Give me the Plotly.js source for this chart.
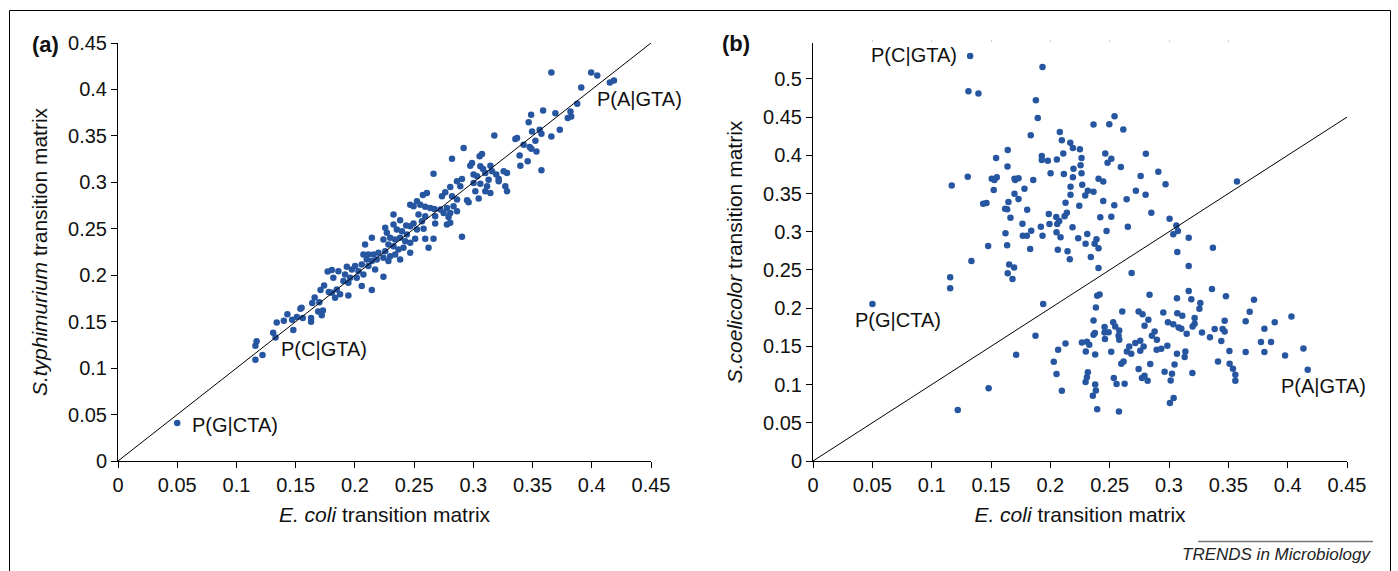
<!DOCTYPE html>
<html>
<head>
<meta charset="utf-8">
<script src="https://cdn.plot.ly/plotly-3.0.1.min.js"></script>
<style>html,body{margin:0;padding:0;background:#fff;}#chart{width:1398px;height:571px;}</style>
</head>
<body>
<div id="chart"></div>
<script>
// ---------- DATA ----------
// Panel (a): [E. coli, S. typhimurium] transition probabilities
const panelAPoints = [
[0.050,0.041],[0.117,0.129],[0.116,0.124],[0.116,0.109],[0.122,0.114],[0.131,0.138],[0.133,0.133],[0.134,0.149],
[0.140,0.151],[0.143,0.158],[0.148,0.141],[0.147,0.152],[0.151,0.155],[0.154,0.164],[0.155,0.165],[0.156,0.154],
[0.163,0.150],[0.163,0.154],[0.164,0.170],[0.166,0.176],[0.169,0.161],[0.170,0.171],[0.171,0.184],[0.172,0.157],
[0.173,0.162],[0.174,0.189],[0.177,0.204],[0.178,0.182],
[0.2326,0.2653],[0.2382,0.2592],[0.2433,0.2535],[0.2326,0.2546],[0.2256,0.2510],[0.2354,0.2492],[0.2397,0.2474],
[0.2439,0.2438],[0.2270,0.2456],[0.2298,0.2403],[0.2340,0.2385],[0.2382,0.2403],[0.2425,0.2367],[0.2467,0.2349],
[0.2086,0.2331],[0.2143,0.2403],[0.2241,0.2385],[0.2283,0.2331],[0.2326,0.2313],[0.2368,0.2277],[0.2410,0.2295],
[0.2467,0.2241],[0.2622,0.2295],[0.2072,0.2223],[0.2114,0.2223],[0.2157,0.2223],[0.2199,0.2241],[0.2256,0.2259],
[0.2298,0.2205],[0.2340,0.2223],[0.2382,0.2170],[0.2100,0.2170],[0.2143,0.2152],[0.2185,0.2170],[0.2241,0.2187],
[0.2283,0.2152],[0.2002,0.2098],[0.2058,0.2116],[0.2114,0.2098],[0.2171,0.2062],[0.1932,0.2091],[0.1861,0.2044],
[0.1805,0.2055],[0.1974,0.2062],[0.2030,0.2044],[0.2072,0.2009],[0.1917,0.2009],[0.1960,0.1973],[0.2016,0.1973],
[0.1818,0.1973],[0.1903,0.1937],[0.1945,0.1919],[0.2058,0.1883],[0.2241,0.1984],[0.2143,0.1840],[0.1847,0.1847],
[0.1805,0.1812],[0.1875,0.1794],[0.1945,0.1783],[0.1833,0.1758],
[0.3177,0.3505],[0.2918,0.3369],[0.2820,0.3255],[0.3053,0.3280],[0.3073,0.3305],[0.2974,0.3179],[0.2989,0.3208],
[0.3059,0.3172],[0.3082,0.3144],[0.3144,0.3179],[0.2664,0.3093],[0.3002,0.3083],[0.3031,0.3065],[0.3101,0.3101],
[0.3158,0.3118],[0.3194,0.3083],[0.3214,0.3036],[0.3256,0.3118],[0.3285,0.3101],[0.2904,0.3036],[0.2862,0.3011],
[0.3129,0.3029],[0.3059,0.2986],[0.3002,0.2993],[0.2805,0.2950],[0.2890,0.2957],[0.3116,0.2957],[0.3101,0.2904],
[0.2763,0.2893],[0.3017,0.2904],[0.3270,0.2957],[0.3285,0.2904],[0.3144,0.2886],[0.3214,0.3011],[0.2608,0.2886],
[0.2574,0.2864],[0.2735,0.2850],[0.2820,0.2850],[0.3045,0.2825],[0.2862,0.2814],[0.2947,0.2807],[0.2960,0.2785],
[0.2524,0.2796],[0.2552,0.2760],[0.2594,0.2736],[0.2636,0.2725],[0.2670,0.2714],[0.2721,0.2707],[0.2777,0.2725],
[0.2833,0.2742],[0.2467,0.2760],[0.2495,0.2742],[0.2749,0.2671],[0.2805,0.2671],[0.2862,0.2689],[0.2537,0.2653],
[0.2594,0.2635],[0.2678,0.2635],[0.2791,0.2628],[0.2566,0.2581],[0.2495,0.2556],[0.2467,0.2528],[0.2805,0.2564],
[0.2777,0.2546],[0.2678,0.2556],[0.2580,0.2499],[0.2524,0.2492],[0.2904,0.2414],[0.2594,0.2392],[0.2664,0.2392],
[0.2509,0.2392],
[0.3659,0.4182],[0.3995,0.4182],[0.4046,0.4150],[0.4153,0.4075],[0.4187,0.4096],[0.3911,0.4021],[0.3877,0.3845],
[0.3820,0.3763],[0.3797,0.3692],[0.3826,0.3709],[0.3693,0.3745],[0.3589,0.3774],[0.3488,0.3727],[0.3467,0.3648],
[0.3730,0.3566],[0.3659,0.3494],[0.3560,0.3566],[0.3496,0.3548],[0.3575,0.3523],[0.3369,0.3477],[0.3355,0.3466],
[0.3425,0.3405],[0.3476,0.3380],[0.3490,0.3362],[0.3524,0.3448],[0.3533,0.3333],[0.3391,0.3290],[0.3459,0.3226],
[0.3397,0.3179],[0.3575,0.3129]
];

// Panel (b): [E. coli, S. coelicolor] - upper group and lower group
const panelBUpper = [
[0.1324,0.530],[0.1934,0.5157],[0.1310,0.4839],[0.1394,0.4809],[0.1878,0.4722],[0.1894,0.4487],[0.2364,0.4404],
[0.2497,0.4408],[0.2541,0.4513],[0.2615,0.4339],[0.1835,0.4264],[0.2080,0.4304],[0.2097,0.4199],[0.2168,0.4164],
[0.2190,0.4095],[0.2249,0.4078],[0.1641,0.4069],[0.1543,0.3964],[0.2109,0.4025],[0.1928,0.3990],[0.1928,0.3938],
[0.1979,0.3929],[0.2055,0.3947],[0.2263,0.3964],[0.2463,0.4025],[0.2514,0.3955],[0.2482,0.3903],[0.2805,0.4020],
[0.2594,0.3846],[0.1639,0.3854],[0.2255,0.3869],[0.2195,0.3824],[0.2910,0.3785],[0.1304,0.3720],[0.2002,0.3764],
[0.2114,0.3755],[0.2263,0.3764],[0.2190,0.3712],[0.1506,0.3694],[0.1549,0.3712],[0.1529,0.3677],[0.1698,0.3694],
[0.1732,0.3699],[0.1704,0.3677],[0.1856,0.3677],[0.2406,0.3694],[0.2446,0.3658],[0.2761,0.3729],[0.1169,0.3606],
[0.1782,0.3563],[0.2170,0.3589],[0.2269,0.3615],[0.1523,0.3546],[0.1698,0.3498],[0.2316,0.3537],[0.2364,0.3524],
[0.2170,0.3484],[0.2294,0.3475],[0.2803,0.3484],[0.2721,0.3537],[0.2971,0.3620],[0.3573,0.3658],[0.1732,0.3428],
[0.1647,0.3389],[0.1434,0.3367],[0.1462,0.3376],[0.2128,0.3380],[0.2446,0.3402],[0.2643,0.3424],[0.2244,0.3341],
[0.2539,0.3346],[0.1619,0.3302],[0.1636,0.3294],[0.1805,0.3289],[0.2851,0.3249],[0.1987,0.3232],[0.2050,0.3193],
[0.2139,0.3249],[0.2120,0.3202],[0.2421,0.3189],[0.2514,0.3197],[0.3005,0.3171],[0.1664,0.3184],[0.1765,0.3106],
[0.1993,0.3102],[0.2075,0.3141],[0.2058,0.3102],[0.1920,0.3066],[0.2187,0.3059],[0.2653,0.3066],[0.2474,0.3010],
[0.3062,0.3083],[0.3075,0.3010],[0.3036,0.2967],[0.1622,0.2979],[0.1839,0.3014],[0.1768,0.2949],[0.1802,0.2949],
[0.1934,0.2949],[0.2052,0.2992],[0.2086,0.2928],[0.2235,0.2915],[0.2311,0.2971],[0.2297,0.2844],[0.2389,0.2902],
[0.2373,0.2844],[0.2406,0.2784],[0.3166,0.2923],[0.1476,0.2814],[0.1636,0.2823],[0.1830,0.2775],[0.2063,0.2766],
[0.2145,0.2745],[0.2341,0.2671],[0.2164,0.2639],[0.3070,0.2736],[0.3370,0.2792],[0.1335,0.2618],[0.2406,0.2527],
[0.2685,0.2461],[0.1653,0.2570],[0.1695,0.2531],[0.1641,0.2457],[0.1681,0.2383],[0.1156,0.2405],[0.1156,0.2262],
[0.3166,0.2553]
];
const panelBLower = [
[0.0501,0.2055],[0.1220,0.0666],[0.1480,0.0951],
[0.1940,0.2056],[0.1875,0.1638],[0.1712,0.1390],[0.2395,0.2161],[0.2415,0.2178],[0.2384,0.2008],[0.2364,0.1838],
[0.2375,0.1674],[0.2364,0.1651],[0.2266,0.1551],[0.2308,0.1560],[0.2328,0.1521],[0.2066,0.1455],[0.2128,0.1538],
[0.2299,0.1433],[0.2378,0.1394],[0.2029,0.1299],[0.2052,0.1138],[0.2097,0.0920],[0.2316,0.1163],[0.2308,0.1097],
[0.2297,0.1033],[0.2378,0.1002],[0.2384,0.0924],[0.2358,0.0854],[0.2395,0.0676],[0.2457,0.1752],[0.2457,0.1682],
[0.2491,0.1686],[0.2460,0.1595],[0.2530,0.1817],[0.2547,0.1760],[0.2581,0.1708],[0.2575,0.1638],[0.2581,0.1586],
[0.2606,0.1956],[0.2513,0.1429],[0.2535,0.1086],[0.2558,0.1007],[0.2626,0.1011],[0.2578,0.0649],[0.2617,0.1302],
[0.2598,0.1273],[0.2665,0.1499],[0.2645,0.1433],[0.2682,0.1403],[0.2716,0.1543],[0.2744,0.1956],[0.2777,0.1922],
[0.2826,0.1847],[0.2794,0.1769],[0.2758,0.1442],[0.2786,0.1499],[0.2758,0.1573],[0.2836,0.2174],[0.2744,0.1203],
[0.2772,0.1086],[0.2794,0.1116],[0.2820,0.1050],[0.2842,0.1269],[0.2856,0.1638],[0.2879,0.1694],[0.2898,0.1586],
[0.2896,0.1455],[0.2935,0.1468],[0.2952,0.1943],[0.2991,0.1817],[0.3036,0.1791],[0.2986,0.1508],[0.2963,0.1168],
[0.3025,0.1142],[0.3014,0.1054],[0.3067,0.2131],[0.3070,0.1935],[0.3112,0.1900],[0.3081,0.1747],[0.3104,0.1730],
[0.3047,0.1263],[0.3067,0.1403],[0.3138,0.1433],[0.3132,0.1360],[0.3149,0.1664],[0.3039,0.0824],[0.3008,0.0758],
[0.3166,0.2226],[0.3188,0.2118],[0.3199,0.1760],[0.3216,0.1795],[0.3216,0.1870],[0.3197,0.1151],[0.3264,0.2066],
[0.3256,0.1991],[0.3278,0.1682],[0.3345,0.1621],[0.3385,0.1726],[0.3362,0.2252],[0.3452,0.1726],[0.3469,0.1694],
[0.3469,0.1835],[0.3480,0.2157],[0.3441,0.1569],[0.3413,0.1302],[0.3509,0.1438],[0.3511,0.1273],[0.3539,0.1207],
[0.3559,0.1129],[0.3559,0.1050],[0.3646,0.1830],[0.3646,0.1425],[0.3680,0.1952],[0.3716,0.2109],[0.3804,0.1730],
[0.3775,0.1556],[0.3804,0.1425],[0.3860,0.1556],[0.3891,0.1817],[0.4032,0.1891],[0.3978,0.1381],[0.4133,0.1472],
[0.4169,0.1194]
];

// identity reference line
const diagX = [0, 0.45];
const diagY = [0, 0.45];

// tick values
const xTicks = [0,0.05,0.1,0.15,0.2,0.25,0.3,0.35,0.4,0.45];
const yTicksB = [0,0.05,0.1,0.15,0.2,0.25,0.3,0.35,0.4,0.45,0.5];
const topMarksB = [0.05,0.1,0.15,0.2,0.25,0.3,0.35];

// ---------- CHART ----------
const W = 1398, H = 571;
const px = v => v / W;
const py = v => 1 - v / H;
const FONT = 'Liberation Sans, Arial, Helvetica, sans-serif';
const DOT = '#2756a1';

const bPoints = panelBUpper.concat(panelBLower);

const traces = [
  {x: panelAPoints.map(p=>p[0]), y: panelAPoints.map(p=>p[1]), type:'scatter', mode:'markers',
   marker:{color:DOT, size:6.5}, xaxis:'x', yaxis:'y', hoverinfo:'x+y'},
  {x: diagX, y: diagY, type:'scatter', mode:'lines', line:{color:'#000', width:1}, xaxis:'x', yaxis:'y', hoverinfo:'skip'},
  {x: bPoints.map(p=>p[0]), y: bPoints.map(p=>p[1]), type:'scatter', mode:'markers',
   marker:{color:DOT, size:6.5}, xaxis:'x2', yaxis:'y2', hoverinfo:'x+y'},
  {x: diagX, y: diagY, type:'scatter', mode:'lines', line:{color:'#000', width:1}, xaxis:'x2', yaxis:'y2', hoverinfo:'skip'},
  {x: topMarksB, y: topMarksB.map(()=>0), type:'scatter', mode:'markers', marker:{opacity:0}, xaxis:'x3', yaxis:'y2', hoverinfo:'skip'}
];

const axisBase = {
  showline:true, linecolor:'#000', linewidth:1, mirror:false,
  ticks:'outside', ticklen:6, tickwidth:1, tickcolor:'#000',
  showgrid:false, zeroline:false,
  tickfont:{family:FONT, size:20, color:'#111'},
  fixedrange:true
};
const titleFont = {family:FONT, size:21, color:'#111'};

const layout = {
  width:W, height:H, margin:{l:0,r:0,t:0,b:0},
  paper_bgcolor:'#fff', plot_bgcolor:'#fff', showlegend:false,
  font:{family:FONT, color:'#111'},
  xaxis: Object.assign({}, axisBase, {domain:[px(118),px(651)], range:[0,0.45], anchor:'y',
    tickmode:'array', tickvals:xTicks,
    title:{text:'<i>E. coli</i> transition matrix', font:titleFont, standoff:12}}),
  yaxis: Object.assign({}, axisBase, {domain:[py(461),py(43)], range:[0,0.45], anchor:'x',
    tickmode:'array', tickvals:xTicks,
    title:{text:'<i>S.typhimurium</i> transition matrix', font:titleFont, standoff:14}}),
  xaxis2: Object.assign({}, axisBase, {domain:[px(813),px(1347)], range:[0,0.45], anchor:'y2',
    tickmode:'array', tickvals:xTicks,
    title:{text:'<i>E. coli</i> transition matrix', font:titleFont, standoff:12}}),
  yaxis2: Object.assign({}, axisBase, {domain:[py(461),py(43)], range:[0,0.547], anchor:'x2',
    tickmode:'array', tickvals:yTicksB,
    title:{text:'<i>S.coelicolor</i> transition matrix', font:titleFont, standoff:14}}),
  xaxis3: {overlaying:'x2', side:'top', anchor:'y2', range:[0,0.45], showline:false, showgrid:false, zeroline:false,
    ticks:'outside', ticklen:2, tickwidth:1, tickcolor:'#c5d0e3', tickmode:'array', tickvals:topMarksB,
    showticklabels:false, fixedrange:true},
  annotations: [
    {text:'<b>(a)</b>', xref:'paper', yref:'paper', x:px(45), y:py(45), xanchor:'center', yanchor:'middle', showarrow:false, font:{family:FONT,size:22,color:'#111'}},
    {text:'<b>(b)</b>', xref:'paper', yref:'paper', x:px(736), y:py(44), xanchor:'center', yanchor:'middle', showarrow:false, font:{family:FONT,size:22,color:'#111'}},
    {text:'P(A|GTA)', xref:'x', yref:'y', x:0.4404, y:0.390, xanchor:'center', yanchor:'middle', showarrow:false, font:{family:FONT,size:20,color:'#111'}},
    {text:'P(C|GTA)', xref:'x', yref:'y', x:0.174, y:0.1203, xanchor:'center', yanchor:'middle', showarrow:false, font:{family:FONT,size:20,color:'#111'}},
    {text:'P(G|CTA)', xref:'x', yref:'y', x:0.0987, y:0.0387, xanchor:'center', yanchor:'middle', showarrow:false, font:{family:FONT,size:20,color:'#111'}},
    {text:'P(C|GTA)', xref:'x2', yref:'y2', x:0.0854, y:0.531, xanchor:'center', yanchor:'middle', showarrow:false, font:{family:FONT,size:20,color:'#111'}},
    {text:'P(G|CTA)', xref:'x2', yref:'y2', x:0.0719, y:0.1847, xanchor:'center', yanchor:'middle', showarrow:false, font:{family:FONT,size:20,color:'#111'}},
    {text:'P(A|GTA)', xref:'x2', yref:'y2', x:0.4304, y:0.0985, xanchor:'center', yanchor:'middle', showarrow:false, font:{family:FONT,size:20,color:'#111'}},
    {text:'<i>TRENDS in Microbiology</i>', xref:'paper', yref:'paper', x:px(1373), y:py(554), xanchor:'right', yanchor:'middle', showarrow:false, font:{family:FONT,size:17,color:'#222'}}
  ],
  shapes: [
    {type:'rect', xref:'paper', yref:'paper', x0:px(9.5), x1:px(1390.5), y0:-0.05, y1:py(10.5), line:{color:'#000', width:1}, fillcolor:'rgba(0,0,0,0)', layer:'below'},
    {type:'line', xref:'paper', yref:'paper', x0:px(1198), x1:px(1373), y0:py(541.5), y1:py(541.5), line:{color:'#777', width:1.5}}
  ]
};

Plotly.newPlot('chart', traces, layout, {displayModeBar:false, staticPlot:true});
</script>
</body>
</html>
